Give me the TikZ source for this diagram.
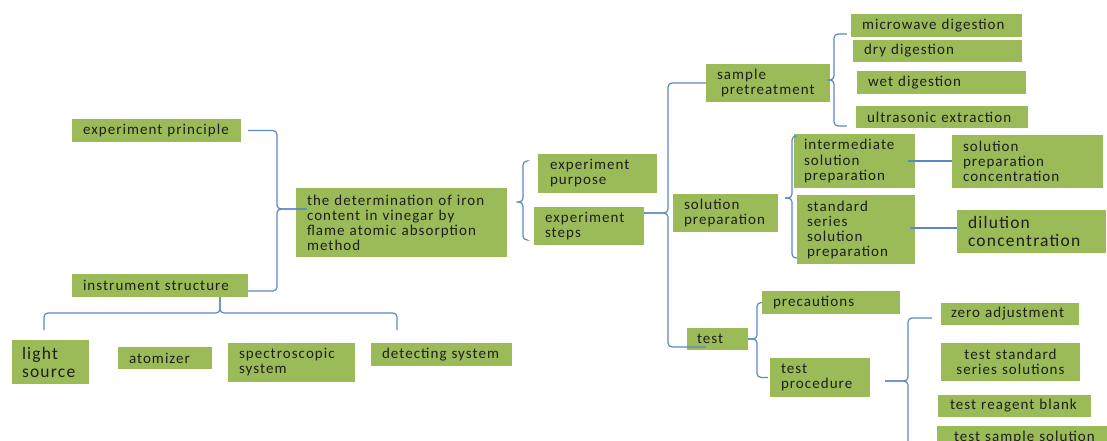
\documentclass[tikz,border=0pt]{standalone}
\usepackage{fontspec}
\setmainfont{Carlito}[LetterSpace=7]
\definecolor{boxgreen}{HTML}{9BBB59}
\definecolor{linkblue}{HTML}{5B87C6}
\definecolor{inkgray}{HTML}{1E1E1E}
\tikzset{
  boxbase/.style={fill=boxgreen, text=inkgray, inner xsep=0pt, inner ysep=0pt,
    font=\fontsize{15}{15}\selectfont},
  leaf/.style={boxbase, align=left, execute at begin node={\leftskip=#1}},
  leaf/.default=11pt,
  bigleaf/.style={leaf=#1, font=\fontsize{17.5}{18}\selectfont},
  bigleaf/.default=10pt,
  link/.style={draw=linkblue, line width=1.2pt, rounded corners=4pt},
}
\begin{document}
\begin{tikzpicture}[x=1pt, y=-1pt]
      \useasboundingbox (0,0) rectangle (1107,441);
      \clip (0,0) rectangle (1107,441);
      \node[leaf, text width=169pt, minimum height=23pt] (principle) at (156.5,130.5) {experiment principle};
      \node[leaf, text width=211pt, minimum height=69pt] (main) at (401.5,222.5) {the determination of iron\\ content in vinegar by\\ flame atomic absorption\\ method};
      \node[leaf, text width=176pt, minimum height=23pt] (instrument) at (160,285.5) {instrument structure};
      \node[bigleaf, text width=77pt, minimum height=44pt] (light) at (50.5,362) {light\\ source};
      \node[leaf, text width=94pt, minimum height=22pt] (atomizer) at (165,358) {atomizer};
      \node[leaf, text width=127pt, minimum height=39pt] (spectro) at (291.5,362.5) {spectroscopic\\ system};
      \node[leaf, text width=141pt, minimum height=23pt] (detecting) at (441.5,354.5) {detecting system};
      \node[leaf=12pt, text width=119pt, minimum height=39pt] (purpose) at (597.5,173.5) {experiment\\ purpose};
      \node[leaf, text width=110pt, minimum height=38pt] (steps) at (589,226) {experiment\\ steps};
      \node[leaf, text width=124pt, minimum height=38pt] (sample) at (768,83) {sample\\ \hspace*{4pt}pretreatment};
      \node[leaf, text width=105pt, minimum height=38pt] (solprep) at (725.5,213) {solution\\ preparation};
      \node[leaf=10pt, text width=61pt, minimum height=22pt] (test) at (717.5,339) {test};
      \node[leaf, text width=171pt, minimum height=23pt] (microwave) at (936.5,25.5) {microwave digestion};
      \node[leaf, text width=169pt, minimum height=22pt] (dry) at (937.5,51) {dry digestion};
      \node[leaf, text width=169pt, minimum height=23pt] (wet) at (941.5,82.5) {wet digestion};
      \node[leaf, text width=172pt, minimum height=22pt] (ultra) at (942,117) {ultrasonic extraction};
      \node[leaf=10pt, text width=121pt, minimum height=54pt] (inter) at (854.5,161) {intermediate\\ solution\\ preparation};
      \node[leaf, text width=151pt, minimum height=53pt] (conc) at (1027.5,161.5) {solution\\ preparation\\ concentration};
      \node[leaf=10pt, text width=118pt, minimum height=69pt] (standard) at (856,229.5) {standard\\ series\\ solution\\ preparation};
      \node[bigleaf=11pt, text width=149pt, minimum height=43pt] (dilution) at (1031.5,231.5) {dilution\\ concentration};
      \node[leaf, text width=138pt, minimum height=23pt] (prec) at (831,302.5) {precautions};
      \node[leaf, text width=100pt, minimum height=39pt] (proc) at (820,377.5) {test\\ procedure};
      \node[leaf=10pt, text width=138pt, minimum height=22pt] (zero) at (1010,314) {zero adjustment};
      \node[boxbase, align=center, text width=139pt, minimum height=38pt] (stdsol) at (1010.5,362) {test standard\\ series solutions};
      \node[leaf=12pt, text width=153pt, minimum height=22pt] (blank) at (1014.5,406) {test reagent blank};
      \node[leaf=17pt, text width=170pt, minimum height=23pt] (samplesol) at (1022,437.5) {test sample solution};
      \coordinate (maintip) at (277,209);
      \coordinate (instip) at (220,313);
      \coordinate (lightarm) at (44,330);
      \coordinate (detectarm) at (397,330);
      \coordinate (mainbr) at (523,202);
      \coordinate (stepbr) at (668,213);
      \coordinate (samplebr) at (834,80);
      \coordinate (solbr) at (792,198);
      \coordinate (testbr) at (757,339);
      \coordinate (procbr) at (908,381);
      \begin{scope}[link]
        \draw ([xshift=7pt]principle.east) -| (maintip) -- ([shift={(11,-13.5)}]main.west);
        \draw ([yshift=-5.5pt]instrument.east) -| (maintip) -- ([shift={(11,-13.5)}]main.west);
        \draw ([xshift=60pt]instrument.south) -- (instip) -| (lightarm);
        \draw ([xshift=60pt]instrument.south) -- (instip) -| (detectarm);
        \draw ([xshift=12pt,yshift=20.5pt]main.east) -- (mainbr) |- ([xshift=-11pt,yshift=12.5pt]purpose.west);
        \draw ([xshift=12pt,yshift=20.5pt]main.east) -- (mainbr) |- ([xshift=-7pt,yshift=-14pt]steps.west);
        \draw ([yshift=13pt]steps.east) -- (stepbr) |- (sample.west);
        \draw ([yshift=13pt]steps.east) -- (stepbr) |- ([shift={(-11.5,8)}]test.center);
        \draw ([yshift=3pt]sample.east) -- (samplebr) |- ([xshift=-4pt,yshift=-8.5pt]microwave.west);
        \draw ([yshift=3pt]sample.east) -- (samplebr) |- ([xshift=-9pt,yshift=-9pt]ultra.west);
        \draw ([xshift=7pt,yshift=15pt]solprep.east) -- (solbr) |- ([xshift=3pt,yshift=25pt]inter.west);
        \draw ([xshift=7pt,yshift=15pt]solprep.east) -- (solbr) |- ([yshift=-28.5pt]standard.west);
        \draw ([xshift=-7pt]inter.east) -- (inter.east -| conc.west);
        \draw ([xshift=-5pt,yshift=1.5pt]standard.east) -- ([yshift=3.5pt]dilution.west);
        \draw (test.east) -- (testbr) |- (prec.west);
        \draw (test.east) -- (testbr) |- ([xshift=-2pt]proc.west);
        \draw ([xshift=15pt,yshift=-3.5pt]proc.east) -- (procbr) |- ([xshift=-9pt,yshift=-4pt]zero.west);
        \draw ([xshift=15pt,yshift=-3.5pt]proc.east) -- (procbr) -- (procbr |- samplesol.south);
      \end{scope}
    \end{tikzpicture}
\end{document}
